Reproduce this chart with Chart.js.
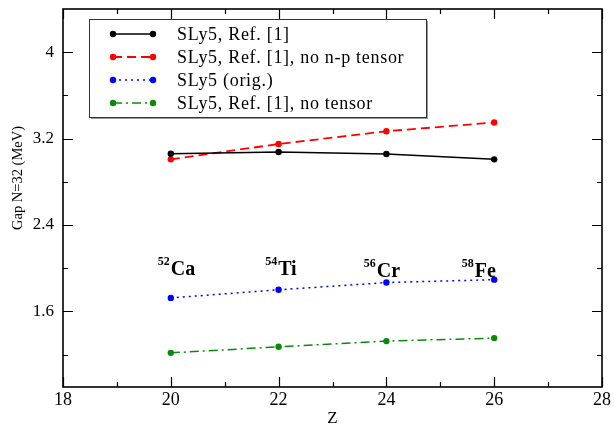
<!DOCTYPE html>
<html>
<head>
<meta charset="utf-8">
<script src="https://cdn.jsdelivr.net/npm/chart.js@4/dist/chart.umd.min.js"></script>
<style>
  html, body { margin: 0; padding: 0; background: #fff; }
  #wrap { width: 614px; height: 428px; }
</style>
</head>
<body>
<div id="wrap"><canvas id="gapChart" width="614" height="428"></canvas></div>
<script>
const zValues = [20, 22, 24, 26];
const sly5Ref = [3.06, 3.076, 3.057, 3.008];
const sly5NoNp = [3.008, 3.15, 3.268, 3.349];
const sly5Orig = [1.725, 1.80, 1.867, 1.894];
const sly5NoTensor = [1.216, 1.272, 1.325, 1.353];

const xTicks = [18, 20, 22, 24, 26, 28];
const xMinor = [19, 21, 23, 25, 27];
const yTicks = [1.6, 2.4, 3.2, 4];
const yMinor = [1.2, 2.0, 2.8, 3.6];

// nucleus labels: mass number, element, anchor (Z, gap) in data units
const nucleusMass = ["52", "54", "56", "58"];
const nucleusName = ["Ca", "Ti", "Cr", "Fe"];
const nucleusX = [19.76, 21.75, 23.58, 25.40];
const nucleusY = [1.94, 1.94, 1.92, 1.92];

const SERIF = "'Liberation Serif', 'DejaVu Serif', serif";

function series(label, values, color, dash, width) {
  return {
    label: label,
    data: zValues.map((z, i) => ({ x: z, y: values[i] })),
    borderColor: color,
    backgroundColor: color,
    borderDash: dash,
    borderWidth: width,
    pointRadius: 3.2,
    pointBorderWidth: 0,
    pointBackgroundColor: color,
    tension: 0,
    fill: false
  };
}

const frameAndExtras = {
  id: "frameAndExtras",
  afterDraw(chart) {
    const ctx = chart.ctx;
    const area = chart.chartArea;
    const xs = chart.scales.x;
    const ys = chart.scales.y;
    ctx.save();

    // plot frame
    ctx.strokeStyle = "#000";
    ctx.lineWidth = 1.6;
    ctx.setLineDash([]);
    ctx.strokeRect(area.left, area.top, area.right - area.left, area.bottom - area.top);

    // inward ticks on all four sides
    ctx.lineWidth = 1.2;
    ctx.beginPath();
    const tickX = (vals, len) => vals.forEach(v => {
      const px = Math.round(xs.getPixelForValue(v)) + 0.5;
      ctx.moveTo(px, area.bottom); ctx.lineTo(px, area.bottom - len);
      ctx.moveTo(px, area.top); ctx.lineTo(px, area.top + len);
    });
    const tickY = (vals, len) => vals.forEach(v => {
      const py = Math.round(ys.getPixelForValue(v)) + 0.5;
      ctx.moveTo(area.left, py); ctx.lineTo(area.left + len, py);
      ctx.moveTo(area.right, py); ctx.lineTo(area.right - len, py);
    });
    tickX(xTicks, 10); tickX(xMinor, 5);
    tickY(yTicks, 10); tickY(yMinor, 5);
    ctx.stroke();

    // y axis title
    ctx.fillStyle = "#000";
    ctx.save();
    ctx.translate(18, 178);
    ctx.rotate(-Math.PI / 2);
    ctx.font = "14.5px " + SERIF;
    ctx.textAlign = "center";
    ctx.textBaseline = "middle";
    ctx.fillText("Gap N=32 (MeV)", 0, 0);
    ctx.restore();

    // nucleus labels
    ctx.textBaseline = "alphabetic";
    ctx.textAlign = "left";
    nucleusName.forEach((name, i) => {
      const px = xs.getPixelForValue(nucleusX[i]);
      const py = ys.getPixelForValue(nucleusY[i]);
      ctx.font = "bold 12px " + SERIF;
      ctx.fillText(nucleusMass[i], px, py - 10);
      const w = ctx.measureText(nucleusMass[i]).width;
      ctx.font = "bold 20px " + SERIF;
      ctx.fillText(name, px + w + 1, py);
    });

    // legend box
    const bx = 89, by = 19, bw = 337, bh = 98;
    ctx.fillStyle = "#999";
    ctx.fillRect(bx + 2, by + bh, bw, 2);
    ctx.fillRect(bx + bw, by + 2, 2, bh);
    ctx.fillStyle = "#fff";
    ctx.fillRect(bx, by, bw, bh);
    ctx.strokeStyle = "#333";
    ctx.lineWidth = 1;
    ctx.strokeRect(bx + 0.5, by + 0.5, bw, bh);

    chart.data.datasets.forEach((ds, i) => {
      const ry = 34 + i * 23;
      ctx.strokeStyle = ds.borderColor;
      ctx.lineWidth = ds.borderWidth;
      ctx.setLineDash(ds.borderDash);
      ctx.beginPath();
      ctx.moveTo(113, ry); ctx.lineTo(153, ry);
      ctx.stroke();
      ctx.setLineDash([]);
      ctx.fillStyle = ds.borderColor;
      [113, 153].forEach(cx => {
        ctx.beginPath();
        ctx.arc(cx, ry, 3.2, 0, Math.PI * 2);
        ctx.fill();
      });
      ctx.fillStyle = "#000";
      ctx.font = "18px " + SERIF;
      ctx.letterSpacing = "0.7px";
      ctx.textBaseline = "middle";
      ctx.fillText(ds.label, 177, ry + 1);
      ctx.letterSpacing = "0px";
    });
    ctx.restore();
  }
};

const ctx = document.getElementById("gapChart").getContext("2d");
new Chart(ctx, {
  type: "line",
  data: {
    datasets: [
      series("SLy5, Ref. [1]", sly5Ref, "#000000", [], 1.5),
      series("SLy5, Ref. [1], no n-p tensor", sly5NoNp, "#ff0000", [9, 5], 1.8),
      series("SLy5 (orig.)", sly5Orig, "#0000ff", [2, 4], 1.5),
      series("SLy5, Ref. [1], no tensor", sly5NoTensor, "#0a8a0a", [9, 4, 2, 4], 1.5)
    ]
  },
  options: {
    responsive: false,
    animation: false,
    layout: { padding: { top: 9, right: 12, left: 0, bottom: 0 } },
    plugins: { legend: { display: false }, tooltip: { enabled: false } },
    scales: {
      x: {
        type: "linear",
        min: 18,
        max: 28,
        grid: { display: false },
        border: { display: false },
        afterBuildTicks: scale => { scale.ticks = xTicks.map(v => ({ value: v })); },
        afterFit: scale => { scale.height = 41; scale.paddingLeft = 0; scale.paddingRight = 0; },
        ticks: {
          color: "#000",
          font: { family: SERIF, size: 18 },
          padding: -6,
          maxRotation: 0,
          callback: v => String(v)
        },
        title: {
          display: true,
          text: "Z",
          color: "#000",
          font: { family: SERIF, size: 17, lineHeight: 1 },
          padding: { top: 0, bottom: 1 }
        }
      },
      y: {
        type: "linear",
        min: 0.9,
        max: 4.4,
        grid: { display: false },
        border: { display: false },
        afterBuildTicks: scale => { scale.ticks = yTicks.map(v => ({ value: v })); },
        afterFit: scale => { scale.width = 63; scale.paddingTop = 0; scale.paddingBottom = 0; },
        ticks: {
          color: "#000",
          font: { family: SERIF, size: 17 },
          padding: 1,
          callback: v => String(v)
        }
      }
    }
  },
  plugins: [frameAndExtras]
});
</script>
</body>
</html>
